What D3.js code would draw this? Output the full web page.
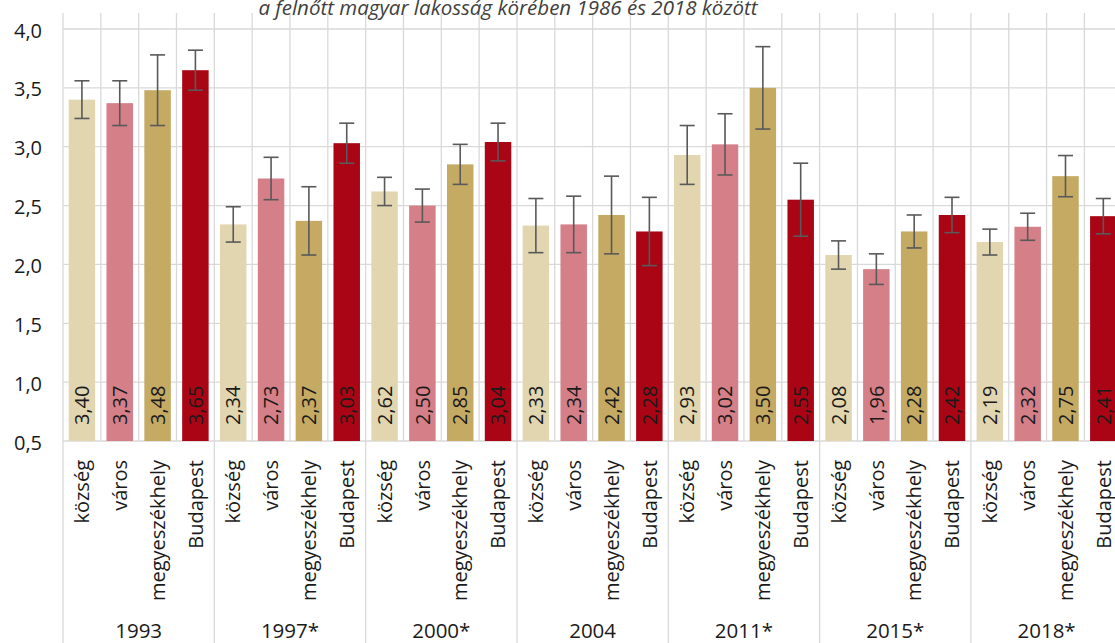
<!DOCTYPE html>
<html>
<head>
<meta charset="utf-8">
<script src="https://cdn.jsdelivr.net/npm/d3@7"></script>
<style>
  html, body { margin: 0; padding: 0; background: #fff; overflow: hidden; }
  svg { display: block; font-family: "Open Sans", sans-serif; }
</style>
</head>
<body>
<svg id="chart" width="1115" height="643"></svg>
<script>
const years = ["1993", "1997*", "2000*", "2004", "2011*", "2015*", "2018*"];
const categories = ["község", "város", "megyeszékhely", "Budapest"];
const kozseg   = [3.40, 2.34, 2.62, 2.33, 2.93, 2.08, 2.19];
const varos    = [3.37, 2.73, 2.50, 2.34, 3.02, 1.96, 2.32];
const megye    = [3.48, 2.37, 2.85, 2.42, 3.50, 2.28, 2.75];
const budapest = [3.65, 3.03, 3.04, 2.28, 2.55, 2.42, 2.41];
const kozsegErr   = [0.16, 0.15, 0.12, 0.23, 0.25, 0.12, 0.11];
const varosErr    = [0.19, 0.18, 0.14, 0.24, 0.26, 0.13, 0.115];
const megyeErr    = [0.30, 0.29, 0.17, 0.33, 0.35, 0.14, 0.175];
const budapestErr = [0.17, 0.17, 0.16, 0.29, 0.31, 0.15, 0.15];
const yTicks = [0.5, 1.0, 1.5, 2.0, 2.5, 3.0, 3.5, 4.0];
const colors = ["#e2d6b0", "#d57f88", "#c5aa64", "#aa0515"];
const title = "a felnőtt magyar lakosság körében 1986 és 2018 között";

const seriesVals = [kozseg, varos, megye, budapest];
const seriesErr = [kozsegErr, varosErr, megyeErr, budapestErr];

const data = [];
years.forEach((yr, yi) => {
  categories.forEach((c, ci) => {
    data.push({ key: yr + "|" + c, year: yr, cat: c, ci, value: seriesVals[ci][yi], err: seriesErr[ci][yi] });
  });
});

const svg = d3.select("#chart");
const W = 1115, H = 643;
const left = 63, step = 37.83;
const plotTop = 13, axisY = 441;

const x = d3.scaleBand()
  .domain(data.map(d => d.key))
  .range([left, left + step * data.length])
  .paddingInner(0.3)
  .paddingOuter(0.15);

const y = d3.scaleLinear().domain([0.5, 4.0]).range([axisY, 29]);

const grid = "#d9d9d9";

// horizontal gridlines
svg.append("g").selectAll("line").data(yTicks).join("line")
  .attr("x1", left).attr("x2", W)
  .attr("y1", d => y(d)).attr("y2", d => y(d))
  .attr("stroke", grid).attr("stroke-width", 1.3);

// vertical gridlines between categories
const bounds = d3.range(data.length + 1).map(i => left + i * x.step());
svg.append("g").selectAll("line").data(bounds).join("line")
  .attr("x1", d => d).attr("x2", d => d)
  .attr("y1", plotTop)
  .attr("y2", (d, i) => (i % 4 === 0 ? H : axisY))
  .attr("stroke", grid).attr("stroke-width", 1.3);

// y axis labels
const yAxis = d3.axisLeft(y).tickValues(yTicks).tickSize(0).tickPadding(0)
  .tickFormat(d => d3.format(".1f")(d).replace(".", ","));
const ya = svg.append("g").attr("transform", "translate(42,0)").call(yAxis);
ya.select(".domain").remove();
ya.selectAll("text")
  .attr("font-family", "Open Sans, sans-serif")
  .attr("font-size", 20).attr("fill", "#1a1a1a")
  .attr("dy", "0.4em");

// bars
svg.append("g").selectAll("rect").data(data).join("rect")
  .attr("x", d => x(d.key))
  .attr("width", x.bandwidth())
  .attr("y", d => y(d.value))
  .attr("height", d => axisY - y(d.value))
  .attr("fill", d => colors[d.ci]);

// error bars
const eb = svg.append("g").attr("stroke", "#595959").attr("stroke-width", 1.6).attr("fill", "none");
const cx = d => x(d.key) + x.bandwidth() / 2;
const cap = 7.5;
eb.selectAll("line.v").data(data).join("line").attr("class", "v")
  .attr("x1", cx).attr("x2", cx)
  .attr("y1", d => y(d.value + d.err)).attr("y2", d => y(d.value - d.err));
eb.selectAll("line.t").data(data).join("line").attr("class", "t")
  .attr("x1", d => cx(d) - cap).attr("x2", d => cx(d) + cap)
  .attr("y1", d => y(d.value + d.err)).attr("y2", d => y(d.value + d.err));
eb.selectAll("line.b").data(data).join("line").attr("class", "b")
  .attr("x1", d => cx(d) - cap).attr("x2", d => cx(d) + cap)
  .attr("y1", d => y(d.value - d.err)).attr("y2", d => y(d.value - d.err));

// value labels (rotated, inside base)
svg.append("g").selectAll("text").data(data).join("text")
  .attr("transform", d => `translate(${cx(d)},${425}) rotate(-90)`)
  .attr("dy", "0.36em")
  .attr("text-anchor", "start")
  .attr("font-size", 20)
  .attr("fill", "#1a1a1a")
  .text(d => d3.format(".2f")(d.value).replace(".", ","));

// category labels
svg.append("g").selectAll("text").data(data).join("text")
  .attr("transform", d => `translate(${cx(d)},${460}) rotate(-90)`)
  .attr("dy", "0.36em")
  .attr("text-anchor", "end")
  .attr("font-size", 20)
  .attr("fill", "#1a1a1a")
  .text(d => d.cat);

// year labels
svg.append("g").selectAll("text").data(years).join("text")
  .attr("x", (d, i) => left + (i * 4 + 2) * x.step())
  .attr("y", 638)
  .attr("text-anchor", "middle")
  .attr("font-size", 20.5)
  .attr("fill", "#1a1a1a")
  .text(d => d);

// title (second line of the original title, near top edge)
svg.append("text")
  .attr("x", 508).attr("y", 15)
  .attr("text-anchor", "middle")
  .attr("font-size", 20.5)
  .attr("font-style", "italic")
  .attr("fill", "#404040")
  .text(title);
</script>
</body>
</html>
